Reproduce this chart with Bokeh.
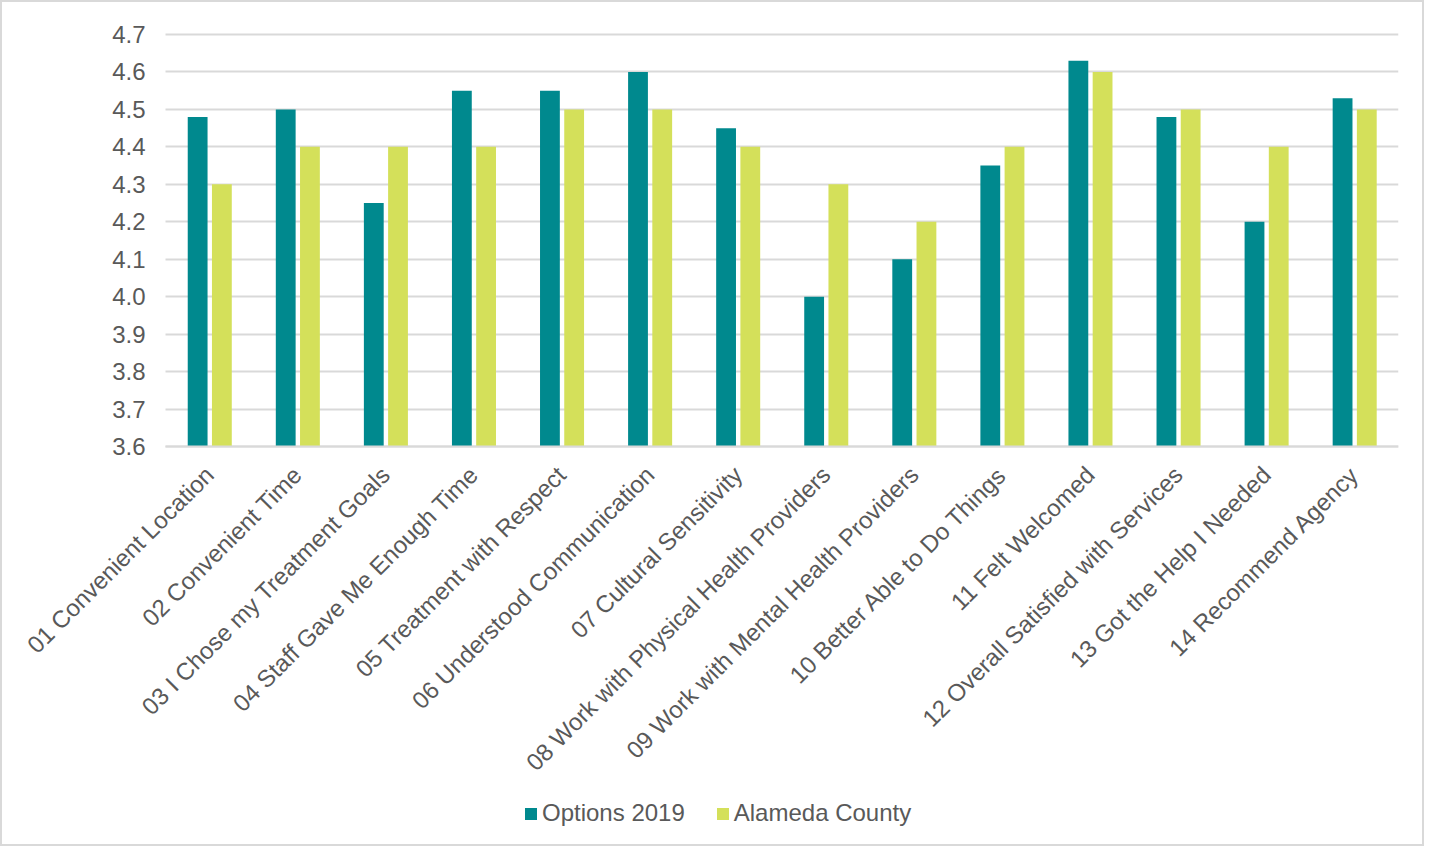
import math
from bokeh.plotting import figure
from bokeh.models import (ColumnDataSource, Range1d, Legend, LegendItem,
                          FixedTicker, NumeralTickFormatter)
from bokeh.transform import dodge
from bokeh.embed import file_html
from bokeh.resources import INLINE

categories = [
    "01 Convenient Location",
    "02 Convenient Time",
    "03 I Chose my Treatment Goals",
    "04 Staff Gave Me Enough Time",
    "05 Treatment with Respect",
    "06 Understood Communication",
    "07 Cultural Sensitivity",
    "08 Work with Physical Health Providers",
    "09 Work with Mental Health Providers",
    "10 Better Able to Do Things",
    "11 Felt Welcomed",
    "12 Overall Satisfied with Services",
    "13 Got the Help I Needed",
    "14 Recommend Agency",
]
options_2019 = [4.48, 4.50, 4.25, 4.55, 4.55, 4.60, 4.45, 4.00, 4.10, 4.35, 4.63, 4.48, 4.20, 4.53]
alameda = [4.30, 4.40, 4.40, 4.40, 4.50, 4.50, 4.40, 4.30, 4.20, 4.40, 4.60, 4.50, 4.40, 4.50]
y_ticks = [3.6, 3.7, 3.8, 3.9, 4.0, 4.1, 4.2, 4.3, 4.4, 4.5, 4.6, 4.7]
series_names = ["Options 2019", "Alameda County"]
colors = ["#00898E", "#D4E05A"]

Y_MIN, Y_MAX = 3.6, 4.7
idx = list(range(len(categories)))
n = len(categories)
src = ColumnDataSource(dict(x=idx, a=options_2019, b=alameda, base=[Y_MIN] * n))

FONT = "Liberation Sans"
TXT = "#595959"

# layout (pixels, page coordinates)
W, H = 1424, 846
MB_TOP, MB_BOT, MB_LEFT, MB_RIGHT = 6, 10, 6, 28
FRAME_L, FRAME_T = 2 + MB_LEFT, 2 + MB_TOP
FRAME_B = 2 + H - MB_BOT
PLOT_L, PLOT_R = 165, 2 + W - MB_RIGHT
PLOT_T, PLOT_B = 34, 446
ppu = (PLOT_B - PLOT_T) / (Y_MAX - Y_MIN)
y_start = Y_MIN - (FRAME_B - PLOT_B) / ppu
y_end = Y_MAX + (PLOT_T - FRAME_T) / ppu
cat_px = (PLOT_R - PLOT_L) / n
x_lo, x_hi = -0.5, n - 0.5
x_start = x_lo - (PLOT_L - FRAME_L) / cat_px

p = figure(
    x_range=Range1d(x_start, x_hi),
    y_range=Range1d(y_start, y_end),
    width=W, height=H,
    output_backend="svg", toolbar_location=None,
    min_border_left=MB_LEFT, min_border_right=MB_RIGHT, min_border_top=MB_TOP, min_border_bottom=MB_BOT,
)

ra = p.vbar(x=dodge("x", -0.135), top="a", bottom="base", width=0.225,
            source=src, fill_color=colors[0], line_color=None)
rb = p.vbar(x=dodge("x", 0.14), top="b", bottom="base", width=0.225,
            source=src, fill_color=colors[1], line_color=None)

p.outline_line_color = None
p.xgrid.grid_line_color = None
p.ygrid.ticker = FixedTicker(ticks=y_ticks)
p.ygrid.cross_bounds = (x_lo, x_hi)
p.ygrid.grid_line_color = "#d9d9d9"
p.ygrid.grid_line_width = 2
p.ygrid.level = "underlay"

p.yaxis.fixed_location = x_lo
p.yaxis.bounds = (Y_MIN, Y_MAX)
p.yaxis.ticker = FixedTicker(ticks=y_ticks)
p.yaxis.formatter = NumeralTickFormatter(format="0.0")
p.yaxis.axis_line_color = None
p.yaxis.major_tick_line_color = None
p.yaxis.minor_tick_line_color = None
p.yaxis.major_label_standoff = 14
p.yaxis.major_label_text_font = FONT
p.yaxis.major_label_text_font_size = "24px"
p.yaxis.major_label_text_color = TXT

p.xaxis.fixed_location = Y_MIN
p.xaxis.bounds = (x_lo, x_hi)
p.xaxis.ticker = FixedTicker(ticks=idx)
p.xaxis.major_label_overrides = {i: c for i, c in zip(idx, categories)}
p.xaxis.axis_line_color = "#d9d9d9"
p.xaxis.axis_line_width = 2
p.xaxis.major_tick_line_color = None
p.xaxis.minor_tick_line_color = None
p.xaxis.major_label_orientation = math.pi / 4
p.xaxis.major_label_standoff = 18
p.xaxis.major_label_text_font = FONT
p.xaxis.major_label_text_font_size = "24px"
p.xaxis.major_label_text_color = TXT

legend = Legend(
    items=[LegendItem(label=series_names[0], renderers=[ra]),
           LegendItem(label=series_names[1], renderers=[rb])],
    orientation="horizontal", location=(515, 11),
    label_text_font=FONT, label_text_font_size="24px", label_text_color=TXT,
    glyph_width=15, glyph_height=15, spacing=30, label_standoff=4,
    border_line_color=None, background_fill_alpha=0, padding=5, margin=0,
)
p.add_layout(legend, "center")
p.styles = {"border": "2px solid #d9d9d9"}

open("out.html", "w").write(file_html(p, INLINE))
